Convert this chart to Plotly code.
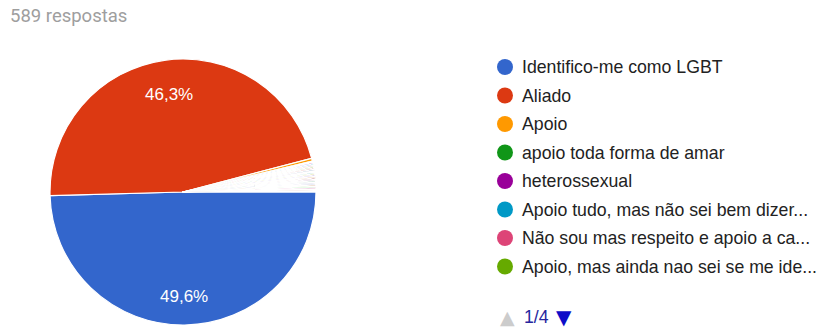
import math
import plotly.graph_objects as go

# ---- data ----
total_responses = 589
legend_labels = [
    "Identifico-me como LGBT",
    "Aliado",
    "Apoio",
    "apoio toda forma de amar",
    "heterossexual",
    "Apoio tudo, mas não sei bem dizer...",
    "Não sou mas respeito e apoio a ca...",
    "Apoio, mas ainda nao sei se me ide...",
]
# responses per category (25 categories, 4 legend pages)
main_values = [292, 273, 2, 1, 1, 1, 1, 1]
other_values = [1] * 17
other_labels = ["resposta %d" % (i + 9) for i in range(len(other_values))]

palette = ["#3366cc", "#dc3912", "#ff9900", "#109618", "#990099", "#0099c6",
           "#dd4477", "#66aa00", "#b82e2e", "#316395", "#994499", "#22aa99",
           "#aaaa11", "#6633cc", "#e67300", "#8b0707", "#651067", "#329262",
           "#5574a6", "#3b3eac", "#b77322", "#16d620", "#b91383", "#f4359e",
           "#9c5935"]
page_text = "1/4"

labels = legend_labels + other_labels
values = main_values + other_values
colors = palette[:len(values)]

W, H = 821, 329
cx, cy, r = 183, 192, 133
start_angle = 90  # degrees clockwise from 12 o'clock

fig = go.Figure()
fig.add_trace(go.Pie(
    labels=labels, values=values, sort=False, direction="clockwise", rotation=start_angle,
    marker=dict(colors=colors, line=dict(color="white", width=1.2)),
    textinfo="none", showlegend=False, hoverinfo="label+value+percent",
    domain=dict(x=[(cx - r) / W, (cx + r) / W], y=[(H - cy - r) / H, (H - cy + r) / H]),
))

annotations = []
# percentage labels for large slices, placed along each slice bisector
tot = sum(values)
acc = 0
for v in values:
    frac = v / tot
    if frac > 0.05:
        mid = math.radians(start_angle + (acc + frac / 2) * 360)
        px = cx + 0.76 * r * math.sin(mid)
        py = cy - 0.76 * r * math.cos(mid)
        annotations.append(dict(
            text=("%.1f%%" % (frac * 100)).replace(".", ","), x=px / W, y=1 - (py + 3) / H,
            xref="paper", yref="paper", xanchor="center", yanchor="middle", showarrow=False,
            font=dict(family="Liberation Sans, Arial", size=17, color="white")))
    acc += frac

annotations.append(dict(
    text="%d respostas" % total_responses, x=8 / W, y=1 - 16 / H, xref="paper", yref="paper",
    xanchor="left", yanchor="middle", showarrow=False,
    font=dict(family="Roboto, Arial", size=18.5, color="#9e9e9e")))
shapes = []
row0, row_gap = 67, 28.5
for i, lab in enumerate(legend_labels):
    yy = row0 + i * row_gap
    shapes.append(dict(type="circle", xref="paper", yref="paper",
                       xsizemode="pixel", ysizemode="pixel",
                       xanchor=505 / W, yanchor=1 - yy / H,
                       x0=-8, x1=8, y0=-8, y1=8,
                       fillcolor=colors[i], line=dict(width=0)))
    annotations.append(dict(text=lab, x=520 / W, y=1 - yy / H, xref="paper", yref="paper",
                            xanchor="left", yanchor="middle", showarrow=False,
                            font=dict(family="Liberation Sans, Arial", size=17.7, color="#222222")))

nav_y = 317
annotations.append(dict(text="▲", x=507 / W, y=1 - nav_y / H, xref="paper", yref="paper",
                        xanchor="center", yanchor="middle", showarrow=False,
                        font=dict(family="DejaVu Sans", size=19, color="#cccccc")))
annotations.append(dict(text=page_text, x=522 / W, y=1 - nav_y / H, xref="paper", yref="paper",
                        xanchor="left", yanchor="middle", showarrow=False,
                        font=dict(family="Liberation Sans, Arial", size=17.7, color="#26269e")))
annotations.append(dict(text="▼", x=564 / W, y=1 - nav_y / H, xref="paper", yref="paper",
                        xanchor="center", yanchor="middle", showarrow=False,
                        font=dict(family="DejaVu Sans", size=20, color="#0d0dc8")))

fig.update_layout(
    width=W, height=H, margin=dict(l=0, r=0, t=0, b=0),
    paper_bgcolor="white", plot_bgcolor="white",
    shapes=shapes, annotations=annotations,
)
fig.write_html("out.html", config={"displayModeBar": False},
               post_script="document.body.style.margin='0';")
